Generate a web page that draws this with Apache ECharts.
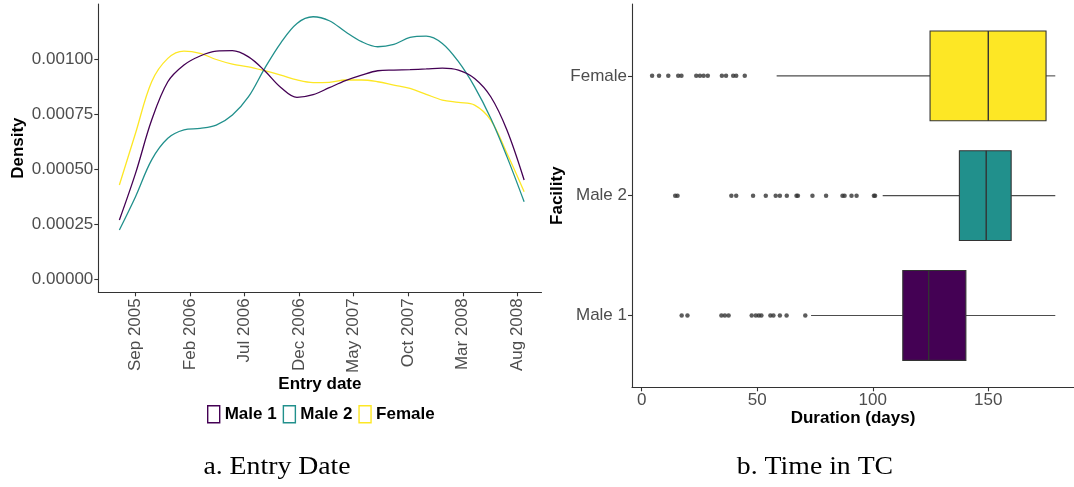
<!DOCTYPE html>
<html>
<head>
<meta charset="utf-8">
<script src="https://cdn.jsdelivr.net/npm/echarts@6/dist/echarts.min.js"></script>
<style>
  html, body { margin: 0; padding: 0; background: #ffffff; }
  #chart { width: 1074px; height: 487px; }
</style>
</head>
<body>
<div id="chart"></div>
<script>
// ---- Panel a: density of entry dates by facility ----
const densityDates = [
  '2005-07-18', '2005-09-01', '2005-10-16', '2005-11-30', '2006-01-14', '2006-02-28',
  '2006-04-14', '2006-05-29', '2006-07-13', '2006-08-27', '2006-10-11', '2006-11-25',
  '2007-01-09', '2007-02-23', '2007-04-09', '2007-05-24', '2007-07-08', '2007-08-22',
  '2007-10-06', '2007-11-20', '2008-01-04', '2008-02-18', '2008-04-03', '2008-05-18',
  '2008-07-02', '2008-08-19'
];
const densityMale1 = [
  0.000269, 0.000481, 0.000723, 0.000897, 0.000973, 0.001014,
  0.001036, 0.001038, 0.001010, 0.000947, 0.000871, 0.000826,
  0.000838, 0.000870, 0.000902, 0.000927, 0.000947, 0.000950,
  0.000952, 0.000955, 0.000959, 0.000950, 0.000912, 0.000829,
  0.000678, 0.000451
];
const densityMale2 = [
  0.000224, 0.000375, 0.000542, 0.000640, 0.000678, 0.000685,
  0.000700, 0.000746, 0.000829, 0.000958, 0.001074, 0.001162,
  0.001192, 0.001174, 0.001124, 0.001079, 0.001056, 0.001067,
  0.001098, 0.001104, 0.001071, 0.000988, 0.000874, 0.000731,
  0.000557, 0.000352
];
const densityFemale = [
  0.000428, 0.000663, 0.000897, 0.001003, 0.001036, 0.001026,
  0.000998, 0.000977, 0.000965, 0.000947, 0.000927, 0.000905,
  0.000893, 0.000894, 0.000905, 0.000905, 0.000897, 0.000882,
  0.000867, 0.000840, 0.000814, 0.000803, 0.000791, 0.000723,
  0.000572, 0.000398
];
const dateTickDates = ['2005-09-01', '2006-02-01', '2006-07-01', '2006-12-01',
                       '2007-05-01', '2007-10-01', '2008-03-01', '2008-08-01'];
const dateTickLabels = ['Sep 2005', 'Feb 2006', 'Jul 2006', 'Dec 2006',
                        'May 2007', 'Oct 2007', 'Mar 2008', 'Aug 2008'];
const densityTicks = [0, 0.00025, 0.0005, 0.00075, 0.001];

// ---- Panel b: time in TC (days) by facility ----
const facilities = ['Male 1', 'Male 2', 'Female'];
const whiskerLow  = [73.3, 104.3, 58.4];
const quartile1   = [113.0, 137.5, 124.8];
const medians     = [124.2, 149.1, 150.0];
const quartile3   = [140.3, 159.9, 175.0];
const whiskerHigh = [179, 179, 179];
const outliersMale1 = [17.3, 19.8, 34.5, 36.0, 37.6, 47.6, 49.4, 50.7, 51.8, 55.7, 57.0, 59.8, 62.7, 70.8];
const outliersMale2 = [14.5, 15.5, 38.8, 40.9, 48.2, 53.7, 58.0, 59.8, 62.8, 67.0, 67.6, 73.9, 79.8,
                       86.9, 87.8, 90.8, 93.0, 100.5, 101.0];
const outliersFemale = [4.5, 7.5, 11.5, 15.8, 17.2, 23.6, 25.2, 26.8, 28.6, 34.7, 36.5, 39.6, 40.9, 44.6];
const durationTicks = [0, 50, 100, 150];

const colors = { 'Male 1': '#440154', 'Male 2': '#21908C', 'Female': '#FDE725' };
const FONT = '"Liberation Sans", Arial, sans-serif';
const DAY = 86400000;
const toTime = s => { const [y, m, d] = s.split('-').map(Number); return Date.UTC(y, m - 1, d); };
const tickTimes = dateTickDates.map(toTime);
const origin = toTime('2005-09-01');

const densitySeries = [
  ['Male 1', densityMale1], ['Male 2', densityMale2], ['Female', densityFemale]
].map(([name, vals]) => ({
  name: name,
  type: 'line',
  xAxisIndex: 0,
  yAxisIndex: 0,
  smooth: 0.35,
  showSymbol: false,
  symbol: 'none',
  silent: true,
  data: densityDates.map((d, i) => [toTime(d), vals[i]]),
  lineStyle: { color: colors[name], width: 1.3 },
  itemStyle: { color: colors[name] },
  z: name === 'Female' ? 2 : (name === 'Male 2' ? 3 : 4)
}));

const outlierData = [];
[outliersMale1, outliersMale2, outliersFemale].forEach((arr, i) => {
  arr.forEach(v => outlierData.push([v, i + 1]));
});

const boxData = facilities.map((f, i) =>
  [i + 1, whiskerLow[i], quartile1[i], medians[i], quartile3[i], whiskerHigh[i]]);

const axisLineStyle = { color: '#333333', width: 1.1 };
const tickLabelStyle = { color: '#4d4d4d', fontSize: 17, fontFamily: FONT };
const titleStyle = { color: '#000000', fontSize: 17, fontWeight: 'bold', fontFamily: FONT };

const option = {
  backgroundColor: '#ffffff',
  animation: false,
  textStyle: { fontFamily: FONT },
  grid: [
    { left: 98.3, top: 4, width: 443.2, height: 288.3 },
    { left: 632, top: 4, width: 442, height: 383.3 }
  ],
  xAxis: [
    {
      gridIndex: 0,
      type: 'value',
      min: origin - 103.7 * DAY,
      max: origin + 1131.4 * DAY,
      axisLine: { show: true, onZero: false, lineStyle: axisLineStyle },
      axisTick: { show: true, length: 4, lineStyle: axisLineStyle, customValues: tickTimes },
      axisLabel: Object.assign({
        rotate: 90, margin: 6, customValues: tickTimes,
        formatter: v => dateTickLabels[tickTimes.indexOf(v)] || ''
      }, tickLabelStyle),
      splitLine: { show: false },
      name: 'Entry date',
      nameLocation: 'middle',
      nameGap: 84,
      nameMoveOverlap: false,
      nameTextStyle: titleStyle
    },
    {
      gridIndex: 1,
      type: 'value',
      min: -4.2,
      max: 187.1,
      axisLine: { show: true, onZero: false, lineStyle: axisLineStyle },
      axisTick: { show: true, length: 4, lineStyle: axisLineStyle, customValues: durationTicks },
      axisLabel: Object.assign({ margin: 5, customValues: durationTicks }, tickLabelStyle),
      splitLine: { show: false },
      name: 'Duration (days)',
      nameLocation: 'middle',
      nameGap: 23,
      nameMoveOverlap: false,
      nameTextStyle: titleStyle
    }
  ],
  yAxis: [
    {
      gridIndex: 0,
      type: 'value',
      min: -0.000059,
      max: 0.00125,
      axisLine: { show: true, onZero: false, lineStyle: axisLineStyle },
      axisTick: { show: true, length: 4, lineStyle: axisLineStyle, customValues: densityTicks },
      axisLabel: Object.assign({ margin: 5, customValues: densityTicks, formatter: v => v.toFixed(5) }, tickLabelStyle),
      splitLine: { show: false },
      name: 'Density',
      nameLocation: 'middle',
      nameGap: 71,
      nameTextStyle: titleStyle
    },
    {
      gridIndex: 1,
      type: 'value',
      min: 0.4,
      max: 3.6,
      axisLine: { show: true, onZero: false, lineStyle: axisLineStyle },
      axisTick: { show: true, length: 4, lineStyle: axisLineStyle, customValues: [1, 2, 3] },
      axisLabel: Object.assign({ margin: 5, customValues: [1, 2, 3],
        formatter: v => facilities[Math.round(v) - 1] || '' }, tickLabelStyle),
      splitLine: { show: false },
      name: 'Facility',
      nameLocation: 'middle',
      nameGap: 66,
      nameTextStyle: titleStyle
    }
  ],
  legend: {
    left: 207,
    top: 405,
    padding: 0,
    itemGap: 6,
    itemWidth: 12,
    itemHeight: 17,
    icon: 'rect',
    selectedMode: false,
    textStyle: { color: '#000000', fontSize: 17, fontWeight: 'bold', fontFamily: FONT },
    data: facilities.map(n => ({
      name: n,
      icon: 'rect',
      itemStyle: { color: 'rgba(0,0,0,0)', borderColor: colors[n], borderWidth: 1.4 }
    }))
  },
  series: densitySeries.concat([
    {
      name: 'boxes',
      type: 'custom',
      xAxisIndex: 1,
      yAxisIndex: 1,
      silent: true,
      data: boxData,
      encode: { x: [1, 2, 3, 4, 5], y: 0 },
      renderItem: (params, api) => {
        const i = params.dataIndex;
        const c = api.value(0);
        const p = k => api.coord([api.value(k), c]);
        const h = api.size([0, 0.75])[1];
        const lo = p(1), a = p(2), m = p(3), b = p(4), hi = p(5);
        const whisker = { stroke: '#4d4d4d', lineWidth: 1.1 };
        return {
          type: 'group',
          children: [
            { type: 'line', shape: { x1: lo[0], y1: lo[1], x2: a[0], y2: a[1] }, style: whisker },
            { type: 'line', shape: { x1: b[0], y1: b[1], x2: hi[0], y2: hi[1] }, style: whisker },
            { type: 'rect', shape: { x: a[0], y: a[1] - h / 2, width: b[0] - a[0], height: h },
              style: { fill: colors[facilities[i]], stroke: '#333333', lineWidth: 1.1 } },
            { type: 'line', shape: { x1: m[0], y1: m[1] - h / 2, x2: m[0], y2: m[1] + h / 2 },
              style: { stroke: '#333333', lineWidth: 1.4 } }
          ]
        };
      }
    },
    {
      name: 'outliers',
      type: 'scatter',
      xAxisIndex: 1,
      yAxisIndex: 1,
      silent: true,
      symbol: 'circle',
      symbolSize: 4.5,
      itemStyle: { color: '#333333' },
      data: outlierData
    }
  ]),
  graphic: [
    { type: 'text', x: 277, y: 467, scaleX: 1.11,
      style: { text: 'a. Entry Date', font: '25px "Liberation Serif", "Times New Roman", serif',
               fill: '#000000', align: 'center', verticalAlign: 'middle' } },
    { type: 'text', x: 815, y: 467, scaleX: 1.11,
      style: { text: 'b. Time in TC', font: '25px "Liberation Serif", "Times New Roman", serif',
               fill: '#000000', align: 'center', verticalAlign: 'middle' } }
  ]
};

const chart = echarts.init(document.getElementById('chart'), null, { renderer: 'canvas' });
chart.setOption(option);
</script>
</body>
</html>
